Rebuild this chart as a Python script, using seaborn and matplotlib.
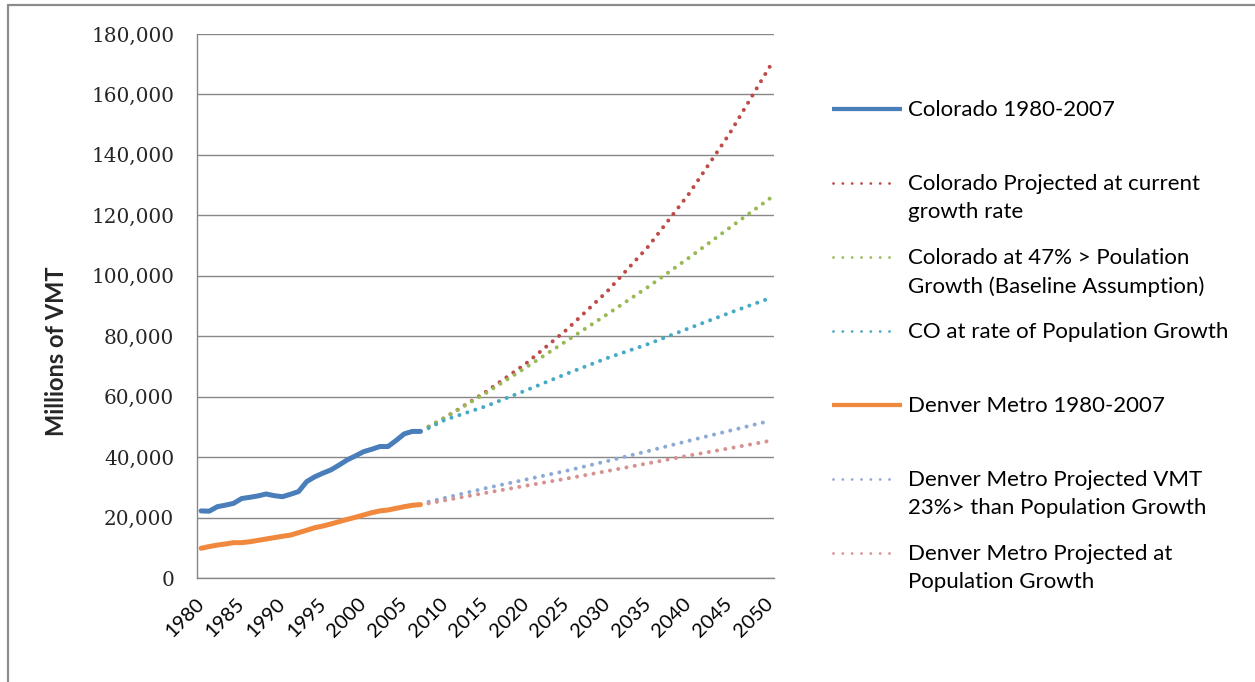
import matplotlib
matplotlib.use("Agg")
import matplotlib.pyplot as plt
from matplotlib.lines import Line2D
from matplotlib.ticker import FixedLocator, FuncFormatter
import seaborn as sns
import pandas as pd

# Historical vehicle miles travelled (millions), 1980-2007
hist_years = list(range(1980, 2008))
colorado_hist = [22200, 22100, 23600, 24100, 24700, 26300, 26700, 27150, 27800, 27250,
                 26900, 27700, 28600, 31900, 33500, 34700, 35800, 37400, 39100, 40400,
                 41800, 42600, 43500, 43500, 45500, 47700, 48500, 48500]
denver_hist = [9830, 10400, 10900, 11250, 11700, 11700, 12000, 12450, 12900, 13350,
               13800, 14200, 15000, 15800, 16650, 17200, 17900, 18650, 19400, 20100,
               20850, 21600, 22200, 22500, 23050, 23600, 24050, 24300]

# Projection scenarios, 2008-2050
proj_years = [2008, 2010, 2015, 2020, 2025, 2030, 2035, 2040, 2045, 2050]
co_current_rate = [50100, 53000, 61500, 71000, 82200, 94900, 109600, 127000, 146900, 169300]
co_baseline = [50000, 53100, 61100, 69700, 78500, 87300, 96300, 105900, 115800, 125600]
co_population = [49600, 52300, 56800, 62100, 67600, 72800, 77400, 82600, 87700, 92600]
denver_vmt_23 = [25200, 26500, 29700, 32600, 35500, 38700, 42000, 45400, 48700, 52000]
denver_population = [24700, 25700, 28150, 30550, 32900, 35400, 37950, 40500, 42900, 45400]

labels = [
    "Colorado 1980-2007",
    "Colorado Projected at current\ngrowth rate",
    "Colorado at 47% > Poulation\nGrowth (Baseline Assumption)",
    "CO at rate of Population Growth",
    "Denver Metro 1980-2007",
    "Denver Metro Projected VMT\n23%> than Population Growth",
    "Denver Metro Projected at\nPopulation Growth",
]
colors = ["#4A7EBB", "#BE4B48", "#98B954", "#46AAC5", "#F0883E", "#8DA9D6", "#D69290"]

series = [
    (hist_years, colorado_hist),
    (proj_years, co_current_rate),
    (proj_years, co_baseline),
    (proj_years, co_population),
    (hist_years, denver_hist),
    (proj_years, denver_vmt_23),
    (proj_years, denver_population),
]
solid = [True, False, False, False, True, False, False]

sns.set_style("white")
plt.rcParams["font.family"] = ["Lato", "DejaVu Sans"]

W, H = 1255, 682
fig = plt.figure(figsize=(W / 100, H / 100), dpi=100)
ax = fig.add_axes([197 / W, 1 - 578 / H, 577 / W, 544 / H])

SOLID_LW = 3.6
DOT_LW = 2.9
DOT_STYLE = (0, (0.01, 2.07))

for (xs, ys), lab, col, is_solid in zip(series, labels, colors, solid):
    df = pd.DataFrame({"year": xs, "vmt": ys})
    if is_solid:
        sns.lineplot(data=df, x="year", y="vmt", ax=ax, color=col, lw=SOLID_LW,
                     solid_capstyle="round", solid_joinstyle="round", zorder=4)
    else:
        sns.lineplot(data=df, x="year", y="vmt", ax=ax, color=col, lw=DOT_LW,
                     linestyle=DOT_STYLE, dash_capstyle="round", zorder=3)

grid_col = "#878787"
ax.set_xlim(1979.5, 2050.5)
ax.set_ylim(0, 180000)
ax.set_yticks(range(0, 180001, 20000))
ax.yaxis.set_major_formatter(FuncFormatter(lambda v, p: f"{int(v):,}"))
ax.yaxis.grid(True, color=grid_col, lw=1.0)
ax.set_axisbelow(True)

ax.set_xticks(list(range(1980, 2051, 5)))
ax.xaxis.set_minor_locator(FixedLocator([y + 0.5 for y in range(1984, 2050, 5)]))
ax.tick_params(axis="x", which="major", length=0, pad=16.5, labelsize=14.5, colors="black")
ax.tick_params(axis="x", which="minor", length=5, direction="in", width=1, color=grid_col)
for lbl in ax.get_xticklabels():
    lbl.set_rotation(45)
    lbl.set_ha("right")
    lbl.set_va("center")
    lbl.set_rotation_mode("anchor")

ax.tick_params(axis="y", length=0, pad=16.5)
for lbl in ax.get_yticklabels():
    lbl.set_fontfamily("DejaVu Serif")
    lbl.set_fontsize(14.4)

for side in ("top", "right"):
    ax.spines[side].set_visible(False)
for side in ("left", "bottom"):
    ax.spines[side].set_color(grid_col)
    ax.spines[side].set_linewidth(1.0)

ax.set_xlabel("")
ax.set_ylabel("Millions of VMT", fontsize=17, fontweight="bold")
ax.yaxis.set_label_coords((57 - 197) / 577, (578 - 351) / 544)
ax.yaxis.label.set_va("center")

# Legend drawn beside the axes, one row per series
row_y = [109, 183, 257, 331, 405, 479, 553]
for y, lab, col, is_solid in zip(row_y, labels, colors, solid):
    yf = 1 - y / H
    if is_solid:
        fig.add_artist(Line2D([832 / W, 902 / W], [yf, yf], transform=fig.transFigure,
                              color=col, lw=SOLID_LW * 0.85, solid_capstyle="butt"))
    else:
        fig.add_artist(Line2D([833 / W, 898 / W], [yf, yf], transform=fig.transFigure,
                              color=col, lw=DOT_LW * 0.7, linestyle=(0, (0.01, 3.3)),
                              dash_capstyle="round"))
    fig.text(908 / W, yf + 9 / H, lab, ha="left", va="top", fontsize=16,
             linespacing=1.5, color="black")

# Frame lines along the top and left edges
frame_col = "#8c8c8c"
fig.add_artist(Line2D([8 / W, 8 / W], [0, 1 - 5 / H], transform=fig.transFigure,
                      color=frame_col, lw=1.6))
fig.add_artist(Line2D([8 / W, 1], [1 - 5 / H, 1 - 5 / H], transform=fig.transFigure,
                      color=frame_col, lw=1.6))

fig.savefig("out.png", dpi=100, facecolor="white")
